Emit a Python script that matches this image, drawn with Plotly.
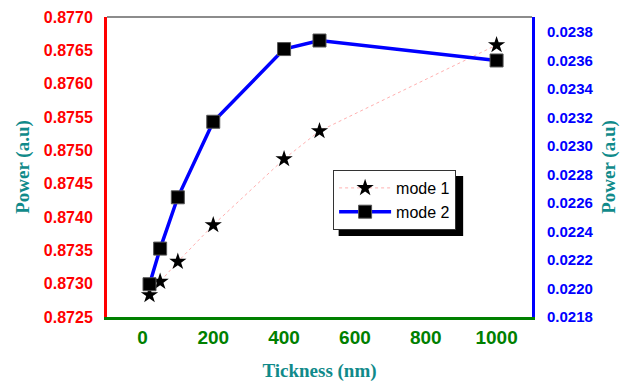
import plotly.graph_objects as go

thickness = [20, 50, 100, 200, 400, 500, 1000]
mode1_power = [0.87283, 0.87303, 0.87333, 0.87388, 0.87487, 0.87529, 0.87658]
mode2_power = [0.02203, 0.02228, 0.02264, 0.02317, 0.02368, 0.02374, 0.02360]

left_ticks = [0.8725, 0.8730, 0.8735, 0.8740, 0.8745, 0.8750, 0.8755, 0.8760, 0.8765, 0.8770]
right_ticks = [0.0218, 0.0220, 0.0222, 0.0224, 0.0226, 0.0228, 0.0230, 0.0232, 0.0234, 0.0236, 0.0238]
x_ticks = [0, 200, 400, 600, 800, 1000]

teal = "#108a8a"

fig = go.Figure()
fig.add_trace(go.Scatter(
    x=thickness, y=mode1_power, name="mode 1", mode="lines+markers",
    line=dict(color="#ffb0b0", width=1, dash="dot"),
    marker=dict(symbol="star", size=13, color="black"),
    yaxis="y"))
fig.add_trace(go.Scatter(
    x=thickness, y=mode2_power, name="mode 2", mode="lines+markers",
    line=dict(color="#0000ff", width=3.5),
    marker=dict(symbol="square", size=13, color="black", line=dict(color="#555", width=1)),
    yaxis="y2"))

fig.update_layout(
    width=622, height=382,
    margin=dict(l=107, r=90, t=17, b=65, autoexpand=False),
    paper_bgcolor="white", plot_bgcolor="white",
    showlegend=True,
    legend=dict(x=0.532, y=0.49, xanchor="left", yanchor="top",
                bgcolor="white", bordercolor="#333", borderwidth=1,
                font=dict(family="Liberation Sans", size=16, color="black"),
                itemwidth=52, tracegroupgap=0),
    xaxis=dict(range=[-100, 1100], tickvals=x_ticks, ticks="", showgrid=False, zeroline=False,
               automargin=False,
               showline=True, linecolor="#008000", linewidth=3,
               tickfont=dict(family="Liberation Sans", size=19, color="#008000", weight="bold"),
               ticklabelstandoff=1,
               title=dict(text="Tickness (nm)", standoff=20,
                          font=dict(family="Liberation Serif", size=19, color=teal, weight="bold"))),
    yaxis=dict(range=[0.8725, 0.8770], tickvals=left_ticks, tickformat=".4f", ticks="",
               automargin=False,
               showgrid=False, zeroline=False, showline=True, linecolor="#ff0000", linewidth=3,
               tickfont=dict(family="Liberation Sans", size=16, color="#ff0000", weight="bold"),
               ticklabelstandoff=8,
               title=dict(text="Power (a.u)", standoff=10,
                          font=dict(family="Liberation Serif", size=19, color=teal, weight="bold"))),
    yaxis2=dict(range=[0.0218, 0.023905], tickvals=right_ticks, tickformat=".4f", ticks="",
                overlaying="y", side="right", automargin=False,
                showgrid=False, zeroline=False, showline=True, linecolor="#0000ff", linewidth=3,
                tickfont=dict(family="Liberation Sans", size=15, color="#0000ff", weight="bold"),
                ticklabelstandoff=9,
                title=dict(text="Power (a.u)", standoff=10,
                           font=dict(family="Liberation Serif", size=19, color=teal, weight="bold"))),
    shapes=[
        dict(type="line", xref="paper", yref="paper", x0=0, x1=1, y0=1, y1=1,
             line=dict(color="#666", width=1.5)),
        dict(type="rect", xref="paper", yref="paper", x0=0.545, x1=0.838, y0=0.27, y1=0.47,
             fillcolor="black", line=dict(width=0), layer="above"),
    ],
)

fig.write_html("out.html")
